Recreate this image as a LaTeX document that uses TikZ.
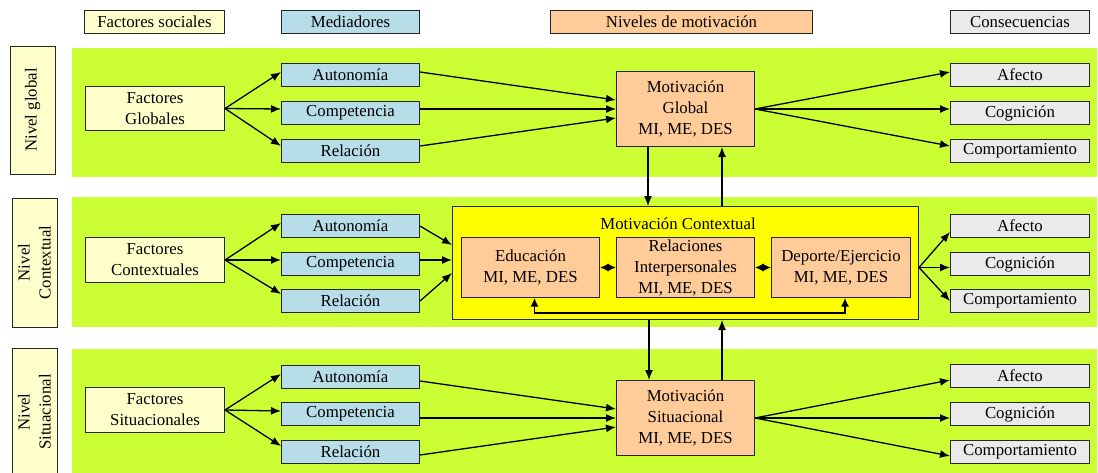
\documentclass[tikz,border=0pt]{standalone}
\usepackage{fontspec}
\setmainfont{Liberation Serif}
\usetikzlibrary{arrows.meta}
\definecolor{bandgreen}{RGB}{204,255,51}
\definecolor{lightyel}{RGB}{255,255,204}
\definecolor{medblue}{RGB}{183,221,232}
\definecolor{peach}{RGB}{255,204,153}
\definecolor{consgray}{RGB}{234,234,234}
\definecolor{ctxyellow}{RGB}{255,255,0}

\begin{document}
\begin{tikzpicture}[x=1pt,y=-1pt,
  box/.style={draw=black!85, line width=1pt, rectangle, inner sep=0pt,
    anchor=north west, align=center, font=\fontsize{16.8}{21}\selectfont},
  social/.style={box, fill=lightyel},
  medbox/.style={box, fill=medblue, minimum width=138pt, minimum height=23pt},
  motbox/.style={box, fill=peach},
  consbox/.style={box, fill=consgray, minimum width=139pt, minimum height=23pt},
  levelbox/.style={social, rotate=90, anchor=center, minimum height=45pt},
  link/.style={line width=1.3pt, -{Latex[length=10pt,width=8pt]}},
  dlink/.style={line width=1.3pt, {Latex[length=8.5pt,width=8pt]}-{Latex[length=8.5pt,width=8pt]}},
]
\useasboundingbox (0,0) rectangle (1098,472);

% background bands of the three levels
\fill[bandgreen] (72,48) rectangle (1097,177);
\fill[bandgreen] (72,197) rectangle (1097,327);
\fill[bandgreen] (72,349) rectangle (1097,473);

% column headers
\node[social, minimum width=140pt, minimum height=23pt] (hsoc) at (84,10) {Factores sociales};
\node[medbox] (hmed) at (281,10) {Mediadores};
\node[motbox, minimum width=262pt, minimum height=23pt] (hmot) at (550,10) {Niveles de motivación};
\node[consbox] (hcons) at (950,10) {Consecuencias};

% level labels
\node[levelbox, minimum width=128pt] (lvg) at (32.5,110) {Nivel global};
\node[levelbox, minimum width=129pt] (lvc) at (34.5,262.5) {Nivel\\Contextual};
\node[levelbox, minimum width=128pt] (lvs) at (34.5,412) {Nivel\\Situacional};

% ---------- global level ----------
\node[social, minimum width=139pt, minimum height=44pt] (fg) at (85,86) {Factores\\Globales};
\node[medbox] (ga) at (281,63) {Autonomía};
\node[medbox] (gc) at (281,101) {Competencia};
\node[medbox] (gr) at (281,139) {Relación};
\node[motbox, minimum width=138pt, minimum height=75pt] (gm) at (616,71) {Motivación\\Global\\MI, ME, DES};
\node[consbox] (gaf) at (950,63) {Afecto};
\node[consbox] (gco) at (950,101) {Cognición};
\node[consbox] (gcp) at (950,139) {Comportamiento};

\draw[link] (fg.east) -- ([yshift=3pt]ga.west);
\draw[link] (fg.east) -- ([yshift=4pt]gc.west);
\draw[link] (fg.east) -- ([yshift=5pt]gr.west);
\draw[link] ([yshift=3pt]ga.east) -- ([yshift=9pt]gm.west);
\draw[link] (gc.east |- gm.west) -- (gm.west);
\draw[link] ([yshift=5pt]gr.east) -- ([yshift=-9pt]gm.west);
\draw[link] (gm.east) -- ([yshift=3pt]gaf.west);
\draw[link] (gm.east) -- (gm.east -| gco.west);
\draw[link] (gm.east) -- ([yshift=5pt]gcp.west);

% ---------- contextual level ----------
\node[social, minimum width=139pt, minimum height=45pt] (fc) at (85,237) {Factores\\Contextuales};
\node[medbox] (ca) at (281,214) {Autonomía};
\node[medbox] (cc) at (281,252) {Competencia};
\node[medbox] (cr) at (281,289) {Relación};
\node[box, fill=ctxyellow, minimum width=466pt, minimum height=113pt] (ctx) at (452,206) {};
\node[font=\fontsize{16.8}{21}\selectfont, inner sep=0pt] (ctxt) at (678,224) {Motivación Contextual};
\node[motbox, minimum width=138pt, minimum height=60pt] (ce) at (461,237) {Educación\\MI, ME, DES};
\node[motbox, minimum width=138pt, minimum height=60pt] (crel) at (616,237) {Relaciones\\Interpersonales\\MI, ME, DES};
\node[motbox, minimum width=139pt, minimum height=60pt] (cd) at (771,237) {Deporte/Ejercicio\\MI, ME, DES};
\node[consbox] (caf) at (950,214) {Afecto};
\node[consbox] (cco) at (950,252) {Cognición};
\node[consbox] (ccp) at (950,289) {Comportamiento};

\draw[link] (fc.east) -- ([yshift=3pt]ca.west);
\draw[link] (fc.east) -- ([yshift=4pt]cc.west);
\draw[link] (fc.east) -- ([yshift=7pt]cr.west);
\draw[link] (ca.east) -- ([yshift=18pt]ctx.west);
\draw[link] ([yshift=4pt]cc.east) -- ([yshift=3pt]ctx.west);
\draw[link] (cr.east) -- ([yshift=-10pt]ctx.west);
\draw[dlink] (ce.east) -- (crel.west);
\draw[dlink] (crel.east) -- (cd.west);
\draw[dlink] ([xshift=4pt]ce.south) -- ++(0,15) -| ([xshift=4pt]cd.south);
\coordinate (cout) at (cd.east -| ctx.east);
\draw[link] (cout) -- ([yshift=-6pt]caf.west);
\draw[link] (cout) -- (cout -| cco.west);
\draw[link] (cout) -- (ccp.west);

% links between global and contextual levels
\coordinate (gdn) at ([xshift=32pt]gm.south west);
\coordinate (gup) at ([xshift=106pt]gm.south west);
\draw[link] (gdn) -- (gdn |- ctx.north);
\draw[link] (gup |- ctx.north) -- (gup);

% ---------- situational level ----------
\node[social, minimum width=139pt, minimum height=45pt] (fs) at (85,387) {Factores\\Situacionales};
\node[medbox] (sa) at (281,365) {Autonomía};
\node[medbox] (sc) at (281,402) {Competencia};
\node[medbox] (sr) at (281,440) {Relación};
\node[motbox, minimum width=138pt, minimum height=75pt] (sm) at (616,380) {Motivación\\Situacional\\MI, ME, DES};
\node[consbox] (saf) at (950,364) {Afecto};
\node[consbox] (sco) at (950,402) {Cognición};
\node[consbox] (scp) at (950,440) {Comportamiento};

\draw[link] (fs.east) -- ([yshift=3pt]sa.west);
\draw[link] (fs.east) -- ([yshift=3pt]sc.west);
\draw[link] (fs.east) -- ([yshift=6pt]sr.west);
\draw[link] ([yshift=-4pt]sa.east) -- ([yshift=9pt]sm.west);
\draw[link] (sc.east |- sm.west) -- (sm.west);
\draw[link] ([yshift=-3pt]sr.east) -- ([yshift=-9pt]sm.west);
\draw[link] (sm.east) -- ([yshift=-4pt]saf.west);
\draw[link] (sm.east) -- (sm.east -| sco.west);
\draw[link] (sm.east) -- ([yshift=-4pt]scp.west);

% links between contextual and situational levels
\coordinate (sdn) at ([xshift=33pt]sm.north west);
\coordinate (sup1) at ([xshift=106pt]sm.north west);
\draw[link] (sdn |- ctx.south) -- (sdn);
\draw[link] (sup1) -- (sup1 |- ctx.south);
\end{tikzpicture}
\end{document}
